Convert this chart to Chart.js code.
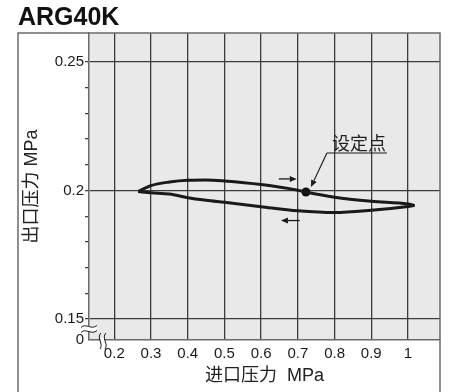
<!DOCTYPE html>
<html><head><meta charset="utf-8">
<script src="https://cdn.jsdelivr.net/npm/chart.js@4.4.1/dist/chart.umd.min.js"></script>
<style>html,body{margin:0;padding:0;background:#fff}#wrap{width:449px;height:392px}</style>
</head><body><div id="wrap"><canvas id="c" width="449" height="392"></canvas></div>
<script>
// ---- chart content ----
const chartTitle = 'ARG40K';
const xAxisTitle = '进口压力  MPa';
const yAxisTitle = '出口压力 MPa';
const xTicks = [0.2, 0.3, 0.4, 0.5, 0.6, 0.7, 0.8, 0.9, 1.0];
const xTickLabels = ['0.2', '0.3', '0.4', '0.5', '0.6', '0.7', '0.8', '0.9', '1'];
const yTicks = [0.15, 0.16, 0.17, 0.18, 0.19, 0.20, 0.21, 0.22, 0.23, 0.24, 0.25];
const yMajorTicks = [0.15, 0.2, 0.25];
const yTickLabels = ['0.15', '0.2', '0.25'];
const yBreakLabel = '0';
// rising inlet pressure branch
const riseX = [0.265, 0.30, 0.35, 0.40, 0.45, 0.50, 0.60, 0.70, 0.722, 0.80, 0.90, 1.00, 1.018];
const riseY = [0.1996, 0.2019, 0.2033, 0.2040, 0.2041, 0.2037, 0.2023, 0.2001, 0.1994, 0.1974, 0.1958, 0.1947, 0.1942];
// falling inlet pressure branch
const fallX = [0.265, 0.30, 0.35, 0.40, 0.45, 0.50, 0.60, 0.70, 0.80, 0.90, 1.00, 1.018];
const fallY = [0.1996, 0.1991, 0.1986, 0.1972, 0.1962, 0.1954, 0.1937, 0.1921, 0.1914, 0.1923, 0.1938, 0.1942];
// set point
const setPointX = [0.722];
const setPointY = [0.1994];
const setPointLabel = '设定点';
// direction arrows (data space)
const riseArrowX = [0.648, 0.697];
const riseArrowY = [0.2045, 0.2045];
const fallArrowX = [0.705, 0.654];
const fallArrowY = [0.1883, 0.1883];

// ---- styling / layout ----
const X_MIN = 0.1311, X_MAX = 1.0872, Y_MIN = 0.1418, Y_MAX = 0.2613;
const INK = '#1a1a1a';
const GRID = '#3c3c3c';
const FRAME = '#6a6a6a';
const LATIN = "'Liberation Sans', Arial, Helvetica, sans-serif";
const MIXED = "'Liberation Sans', Arial, 'Noto Sans CJK SC', sans-serif";
const CJK = "'Noto Sans CJK SC', 'Liberation Sans', sans-serif";
const near = (a, b) => Math.abs(a - b) < 1e-9;

const pts = (xs, ys) => xs.map((x, i) => ({x, y: ys[i]}));

function arrow(ctx, x0, y0, x1, y1) {
  const ang = Math.atan2(y1 - y0, x1 - x0);
  const hl = 7, hw = 3;
  ctx.beginPath(); ctx.moveTo(x0, y0);
  ctx.lineTo(x1 - Math.cos(ang) * hl, y1 - Math.sin(ang) * hl); ctx.stroke();
  ctx.beginPath();
  ctx.moveTo(x1, y1);
  ctx.lineTo(x1 - Math.cos(ang) * hl - Math.sin(ang) * hw, y1 - Math.sin(ang) * hl + Math.cos(ang) * hw);
  ctx.lineTo(x1 - Math.cos(ang) * hl + Math.sin(ang) * hw, y1 - Math.sin(ang) * hl - Math.cos(ang) * hw);
  ctx.closePath(); ctx.fill();
}

const decorPlugin = {
  id: 'decor',
  beforeDraw(chart) {
    const {ctx, chartArea: a} = chart;
    ctx.save();
    ctx.fillStyle = '#e9e9e9';
    ctx.fillRect(a.left, a.top, a.right - a.left, a.bottom - a.top);
    ctx.restore();
  },
  afterDraw(chart) {
    const {ctx, chartArea: a, scales} = chart;
    const xs = scales.x, ys = scales.y;
    ctx.save();
    // outer frame
    ctx.strokeStyle = FRAME; ctx.lineWidth = 1.5;
    ctx.beginPath();
    ctx.moveTo(ys.left, chart.height); ctx.lineTo(ys.left, a.top);
    ctx.lineTo(a.right, a.top); ctx.lineTo(a.right, chart.height);
    ctx.stroke();

    // axis break on y axis
    const bx = a.left, by = a.bottom - 11;
    const tilde = (x, y) => { ctx.moveTo(x - 8, y + 1); ctx.bezierCurveTo(x - 3, y - 4, x + 2, y + 4, x + 8, y - 1); };
    ctx.fillStyle = '#ffffff';
    ctx.beginPath();
    ctx.moveTo(bx - 8, by - 2); ctx.bezierCurveTo(bx - 3, by - 7, bx + 2, by + 1, bx + 8, by - 4);
    ctx.lineTo(bx + 8, by + 1); ctx.bezierCurveTo(bx + 2, by + 6, bx - 3, by - 2, bx - 8, by + 3);
    ctx.closePath(); ctx.fill();
    ctx.strokeStyle = INK; ctx.lineWidth = 1;
    ctx.beginPath(); tilde(bx, by - 2.5); tilde(bx, by + 2.5); ctx.stroke();

    // axis break on x axis
    const cx = a.left + 13, cy = a.bottom + 1;
    ctx.fillStyle = '#ffffff';
    ctx.fillRect(cx - 1.5, cy - 3, 4, 5);
    const paren = (x) => { ctx.moveTo(x + 1, cy - 8); ctx.bezierCurveTo(x - 4, cy - 3, x + 4, cy + 3, x, cy + 8); };
    ctx.beginPath(); paren(cx - 2); paren(cx + 3); ctx.stroke();

    // direction arrows
    ctx.strokeStyle = INK; ctx.fillStyle = INK; ctx.lineWidth = 1.3;
    arrow(ctx, xs.getPixelForValue(riseArrowX[0]), ys.getPixelForValue(riseArrowY[0]),
               xs.getPixelForValue(riseArrowX[1]), ys.getPixelForValue(riseArrowY[1]));
    arrow(ctx, xs.getPixelForValue(fallArrowX[0]), ys.getPixelForValue(fallArrowY[0]),
               xs.getPixelForValue(fallArrowX[1]), ys.getPixelForValue(fallArrowY[1]));

    // set point callout
    const px = xs.getPixelForValue(setPointX[0]), py = ys.getPixelForValue(setPointY[0]);
    const sx = px + 21, sy = py - 39;
    ctx.lineWidth = 1.1;
    ctx.beginPath(); ctx.moveTo(sx + 60, sy); ctx.lineTo(sx, sy); ctx.stroke();
    arrow(ctx, sx, sy, px + 5, py - 5);
    ctx.font = '18px ' + CJK;
    ctx.fillStyle = '#222';
    ctx.textAlign = 'center'; ctx.textBaseline = 'alphabetic';
    ctx.fillText(setPointLabel, sx + 32, sy - 3);
    ctx.restore();
  }
};

new Chart(document.getElementById('c'), {
  type: 'scatter',
  data: {
    datasets: [
      {data: pts(riseX, riseY), showLine: true, borderColor: INK, borderWidth: 3, pointRadius: 0, cubicInterpolationMode: 'monotone', fill: false},
      {data: pts(fallX, fallY), showLine: true, borderColor: INK, borderWidth: 3, pointRadius: 0, cubicInterpolationMode: 'monotone', fill: false},
      {data: pts(setPointX, setPointY), showLine: false, pointRadius: 4.5, pointBackgroundColor: '#111', pointBorderColor: '#111', pointBorderWidth: 0}
    ]
  },
  options: {
    responsive: false,
    animation: false,
    devicePixelRatio: 1,
    layout: {padding: {left: 18, right: 9, top: 0, bottom: 0}},
    plugins: {
      legend: {display: false},
      tooltip: {enabled: false},
      title: {
        display: true, text: chartTitle, align: 'start', color: '#111',
        font: {family: LATIN, size: 25, weight: 'bold', lineHeight: 1.2},
        padding: {top: 3, bottom: 0}
      }
    },
    scales: {
      x: {
        type: 'linear', min: X_MIN, max: X_MAX,
        afterBuildTicks: s => { s.ticks = xTicks.map(v => ({value: v})); },
        afterFit: s => { s.height = 52; },
        ticks: {
          autoSkip: false, maxRotation: 0, padding: 5, color: '#1a1a1a',
          font: {family: LATIN, size: 15},
          callback: (v) => { const i = xTicks.findIndex(t => near(t, v)); return i >= 0 ? xTickLabels[i] : ''; }
        },
        grid: {color: GRID, lineWidth: 1.3, drawTicks: false},
        border: {display: true, color: FRAME, width: 1.5},
        title: {display: true, text: xAxisTitle, color: '#222', font: {family: MIXED, size: 18}, padding: {top: 0, bottom: 5}}
      },
      y: {
        type: 'linear', min: Y_MIN, max: Y_MAX,
        afterBuildTicks: s => { s.ticks = [{value: s.min}].concat(yTicks.map(v => ({value: v}))); },
        afterFit: s => { s.width = 71; },
        ticks: {
          autoSkip: false, padding: 1, color: '#1a1a1a',
          font: {family: LATIN, size: 15},
          callback: function (v) {
            if (near(v, this.min)) return yBreakLabel;
            const i = yMajorTicks.findIndex(t => near(t, v));
            return i >= 0 ? yTickLabels[i] : '';
          }
        },
        grid: {
          lineWidth: 1.3, tickLength: 4, tickWidth: 1.2,
          color: ctx => (ctx.tick && yMajorTicks.some(m => near(m, ctx.tick.value))) ? GRID : 'rgba(0,0,0,0)',
          tickColor: ctx => (ctx.tick && near(ctx.tick.value, Y_MIN)) ? 'rgba(0,0,0,0)' : '#333'
        },
        border: {display: true, color: FRAME, width: 1.5},
        title: {display: true, text: yAxisTitle, color: '#222', font: {family: MIXED, size: 18}, padding: {top: 3, bottom: 0}}
      }
    }
  },
  plugins: [decorPlugin]
});
</script>
</body></html>
